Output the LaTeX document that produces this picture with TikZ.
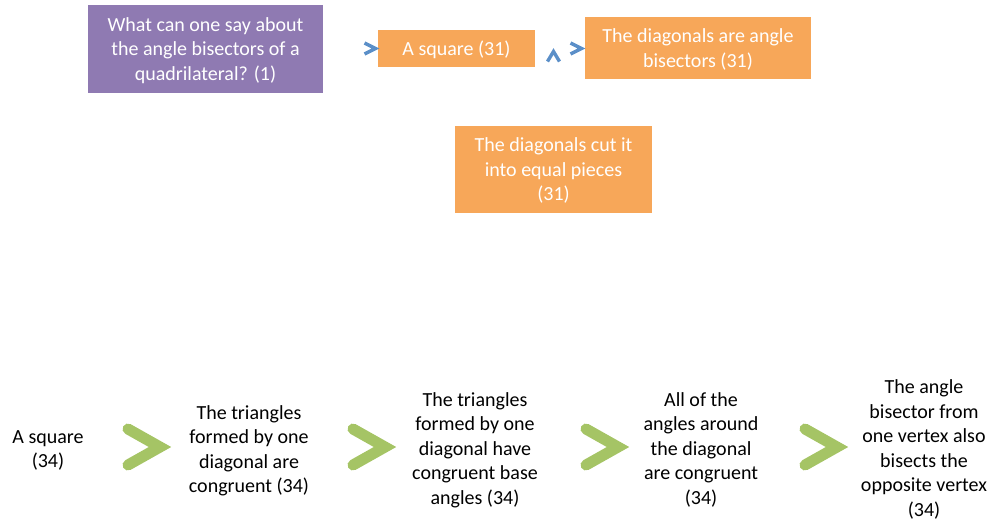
\documentclass[tikz,border=0pt]{standalone}
\usepackage{fontspec}
\setmainfont{Carlito}
\begin{document}
\definecolor{boxpurple}{RGB}{143,122,178}
\definecolor{boxorange}{RGB}{247,167,89}
\definecolor{arrowblue}{RGB}{91,143,200}
\definecolor{arrowgreen}{RGB}{165,196,101}
\begin{tikzpicture}[x=1pt,y=-1pt,
  every node/.style={font=\fontsize{20}{24.5}\selectfont, align=center, inner sep=0pt, text depth=0pt},
  filledbox/.style={fill=#1, text=white},
  bluechev/.style={draw=arrowblue, line width=3.4pt, miter limit=10},
  greenchev/.style={draw=arrowgreen, line width=11pt, line cap=round, line join=miter, miter limit=10},
  plain/.style={text=black}]
\useasboundingbox (0,0) rectangle (993,523);

% upper row of boxes
\node[filledbox=boxpurple, minimum width=235pt, minimum height=88pt] (q) at (205.5,49)
  {What can one say about\\the angle bisectors of a\\quadrilateral? (1)};
\node[filledbox=boxorange, minimum width=157pt, minimum height=37pt] (sq31) at (456.5,48.5)
  {A square (31)};
\node[filledbox=boxorange, minimum width=226pt, minimum height=62pt] (diag) at (698,48)
  {The diagonals are angle\\bisectors (31)};
\node[filledbox=boxorange, minimum width=197pt, minimum height=87pt] (cut) at (553.5,169.5)
  {The diagonals cut it\\into equal pieces\\(31)};

% small blue chevrons
\draw[bluechev] (364.5,43) -- (375.5,48.5) -- (364.5,54);
\draw[bluechev] (547.5,61.5) -- (553.5,51.5) -- (559.5,61.5);
\draw[bluechev] (570.5,43) -- (581.5,48.5) -- (570.5,54);

% lower chain of statements
\node[plain] (sq34) at (48,449) {A square\\(34)};
\node[plain] (tri) at (249,449) {The triangles\\formed by one\\diagonal are\\congruent (34)};
\node[plain] (base) at (475,448.5) {The triangles\\formed by one\\diagonal have\\congruent base\\angles (34)};
\node[plain] (all) at (701,448.5) {All of the\\angles around\\the diagonal\\are congruent\\(34)};
\node[plain] (bis) at (924,448) {The angle\\bisector from\\one vertex also\\bisects the\\opposite vertex\\(34)};

% large green chevrons
\foreach \cx in {122,347,580,799}{
  \draw[greenchev] (\cx+6,429) -- (\cx+38,447) -- (\cx+6,465);
}
\end{tikzpicture}
\end{document}
